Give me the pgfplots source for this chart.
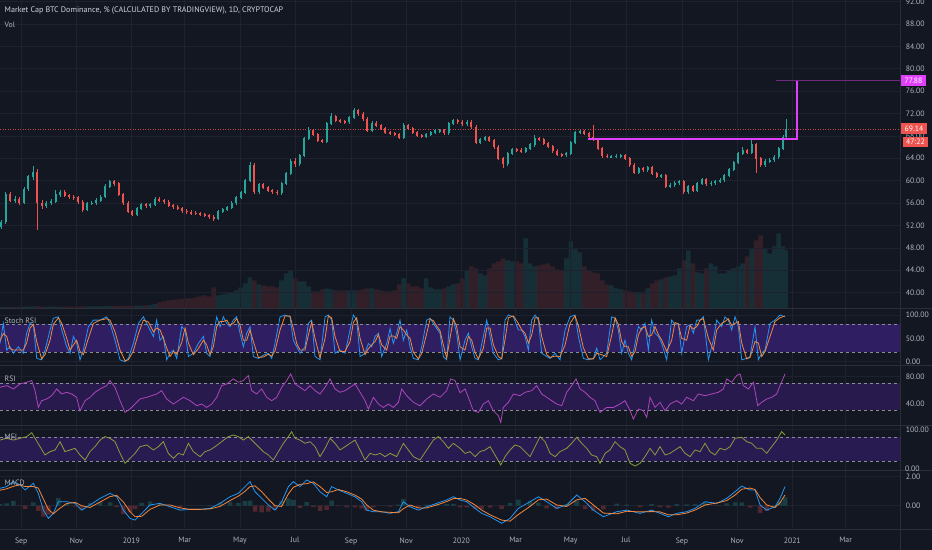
\documentclass[border=0pt]{standalone}
\usepackage{pgfplots}
\pgfplotsset{compat=1.18}
\usepackage{pgfplotstable}
\usepackage{fontspec}
\setmainfont{PT Sans}
\definecolor{bgc}{HTML}{131722}
\definecolor{gridc}{HTML}{1E2230}
\definecolor{sepc}{HTML}{2A2E39}
\definecolor{txt}{HTML}{B2B5BE}
\definecolor{ttl}{HTML}{D1D4DC}
\definecolor{upc}{HTML}{26A69A}
\definecolor{downc}{HTML}{EF5350}
\definecolor{magc}{HTML}{E040FB}
\definecolor{dimmag}{HTML}{6E2A7E}
\definecolor{kc}{HTML}{2196F3}
\definecolor{dc}{HTML}{F5883A}
\definecolor{rsic}{HTML}{AB47BC}
\definecolor{mfic}{HTML}{8C9A3A}
\definecolor{bandS}{HTML}{301E63}
\definecolor{bandR}{HTML}{281A4D}
\definecolor{bandM}{HTML}{281B52}
\definecolor{dashc}{HTML}{8A8D96}
\newcommand{\tvfont}{\fontsize{7.8}{9}\selectfont}
\newcommand{\ttlfont}{\fontsize{8.1}{9}\selectfont}

\pgfplotstableread{
d o h l c v
-144 51.8 53.0 51.3 52.6 1.5
-139 52.6 58.0 52.3 57.5 1.5
-134 57.5 57.9 56.1 56.5 1.5
-129 56.5 57.2 56.0 56.6 1.5
-124 56.6 57.0 55.6 56.0 1.5
-119 56.0 58.9 55.8 58.5 1.6
-114 58.5 61.0 58.2 60.7 1.8
-109 60.7 62.6 60.2 61.5 1.8
-104 61.5 62.0 51.2 56.0 2.2
-99 56.0 56.6 55.0 55.5 1.8
-94 55.5 56.4 55.1 56.0 1.8
-89 56.0 56.8 55.6 56.3 1.8
-84 56.3 58.3 56.0 57.5 1.8
-79 57.5 58.4 57.1 58.0 1.8
-74 58.0 58.3 57.0 57.3 1.8
-69 57.3 57.6 56.8 57.1 1.8
-64 57.1 57.5 56.6 57.0 1.8
-59 57.0 57.3 55.9 56.2 1.9
-54 56.2 56.5 54.4 54.8 2.0
-49 54.8 56.2 54.5 55.9 2.0
-44 55.9 56.4 55.6 56.0 2.0
-39 56.0 56.9 55.7 56.5 2.0
-34 56.5 57.4 56.2 57.1 2.0
-29 57.1 59.4 56.9 59.0 2.2
-24 59.0 60.1 58.7 59.8 2.2
-19 59.8 60.1 59.1 59.5 2.2
-14 59.5 59.8 57.2 57.5 2.3
-9 57.5 57.8 55.7 56.0 2.4
-4 56.0 56.3 54.2 54.5 2.5
1 54.5 54.8 53.6 54.0 2.5
6 54.0 55.3 53.7 55.0 2.6
11 55.0 56.0 54.7 55.7 2.8
16 55.7 56.0 55.2 55.5 3.0
21 55.5 56.0 55.2 55.7 3.3
26 55.7 57.0 55.4 56.6 4.5
31 56.6 57.0 56.2 56.5 6.0
36 56.5 56.8 55.9 56.2 7.0
41 56.2 56.5 55.3 55.6 8.0
46 55.6 55.9 55.0 55.3 8.5
51 55.3 55.6 54.7 55.0 9.0
56 55.0 55.3 54.3 54.6 9.5
61 54.6 54.9 54.1 54.4 10
66 54.4 54.7 53.9 54.2 10
71 54.2 54.5 53.8 54.1 11
76 54.1 54.4 53.7 54.0 12
81 54.0 54.3 53.5 53.8 13
86 53.8 54.1 53.2 53.5 12
91 53.5 53.8 52.8 53.2 21
96 53.2 54.8 52.9 54.5 13
101 54.5 55.1 54.2 54.8 14
106 54.8 55.5 54.5 55.2 15
111 55.2 56.3 54.9 56.0 16
116 56.0 57.3 55.7 57.0 18
121 57.0 58.2 56.7 57.9 21
126 57.9 60.3 57.6 60.0 25
131 60.0 63.4 59.7 62.8 31
136 62.8 63.1 57.7 58.0 28
141 58.0 59.6 57.7 59.3 24
146 59.3 59.6 58.5 58.8 23
151 58.8 59.1 57.9 58.2 22
156 58.2 58.5 57.7 58.0 22
161 58.0 58.3 57.5 57.8 21
166 57.8 59.8 57.5 59.5 28
171 59.5 61.6 59.2 61.3 35
176 61.3 63.8 61.0 63.5 38
181 63.5 64.0 62.5 63.0 30
186 63.0 64.8 62.7 64.5 27
191 64.5 67.8 64.2 67.5 27
196 67.5 69.5 67.2 69.0 22
201 69.0 69.3 67.9 68.2 17
206 68.2 68.5 66.9 67.2 17
211 67.2 67.5 66.7 67.0 19
216 67.0 70.5 66.7 70.2 20
221 70.2 72.0 69.9 71.5 19
226 71.5 71.8 70.5 70.8 18
231 70.8 71.1 70.3 70.6 18
236 70.6 70.9 70.2 70.5 18
241 70.5 71.6 70.2 71.3 18
246 71.3 72.9 71.0 72.5 18
251 72.5 72.8 71.6 71.9 18
256 71.9 72.2 70.7 71.0 19
261 71.0 71.3 68.7 69.0 20
266 69.0 70.6 68.7 70.3 20
271 70.3 70.6 69.5 69.8 19
276 69.8 70.1 69.0 69.3 18
281 69.3 69.6 68.3 68.6 17
286 68.6 68.9 68.1 68.4 17
291 68.4 68.7 67.9 68.2 18
296 68.2 68.5 67.4 67.7 24
301 67.7 70.3 67.4 69.9 30
306 69.9 70.2 69.0 69.3 25
311 69.3 69.6 68.3 68.6 22
316 68.6 68.9 67.8 68.1 22
321 68.1 68.4 67.6 67.9 20
326 67.9 68.5 67.6 68.2 30
331 68.2 68.9 67.9 68.6 21
336 68.6 69.2 68.3 68.9 19
341 68.9 69.3 68.6 69.0 19
346 69.0 69.3 68.2 68.5 20
351 68.5 70.5 68.2 70.2 22
356 70.2 71.1 69.9 70.8 24
361 70.8 71.1 70.2 70.5 25
366 70.5 70.8 69.8 70.1 30
371 70.1 70.8 69.8 70.5 38
376 70.5 70.8 69.3 69.6 42
381 69.6 69.9 66.5 66.8 40
386 66.8 67.6 66.5 67.3 35
391 67.3 68.0 67.0 67.7 33
396 67.7 68.0 66.9 67.2 40
401 67.2 67.5 65.7 66.0 45
406 66.0 66.3 63.7 64.0 47
411 64.0 64.3 62.2 63.0 50
416 63.0 65.1 62.7 64.8 48
421 64.8 65.9 64.5 65.6 47
426 65.6 65.9 65.2 65.5 47
431 65.5 65.8 64.9 65.2 45
436 65.2 66.0 64.9 65.7 70
441 65.7 66.7 65.4 66.4 45
446 66.4 68.2 66.1 67.5 42
451 67.5 67.8 67.1 67.4 43
456 67.4 67.7 66.3 66.6 44
461 66.6 66.9 65.8 66.1 45
466 66.1 66.4 65.0 65.3 42
471 65.3 65.6 64.4 64.7 39
476 64.7 65.0 64.3 64.6 38
481 64.6 65.2 64.3 64.9 50
486 64.9 67.1 64.6 66.8 67
491 66.8 68.9 66.5 68.6 60
496 68.6 69.1 68.3 68.8 56
501 68.8 69.1 68.1 68.4 42
506 68.4 68.7 67.5 67.8 38
511 67.8 70.0 67.1 67.4 36
516 67.4 67.7 65.5 65.8 35
521 65.8 66.1 64.1 64.4 28
526 64.4 64.7 64.0 64.3 24
531 64.3 64.6 64.0 64.3 23
536 64.3 64.7 64.0 64.4 20
541 64.4 64.8 64.1 64.5 19
546 64.5 64.8 63.7 64.0 18
551 64.0 64.3 62.5 62.8 17
556 62.8 63.1 61.2 61.5 16
561 61.5 62.5 61.2 62.2 15
566 62.2 62.5 61.6 61.9 15
571 61.9 62.6 61.6 62.3 20
576 62.3 62.6 61.0 61.3 25
581 61.3 61.6 60.4 60.7 28
586 60.7 61.2 60.4 60.9 29
591 60.9 61.2 58.7 59.0 31
596 59.0 59.5 58.7 59.2 32
601 59.2 59.9 58.9 59.6 33
606 59.6 60.1 59.3 59.8 40
611 59.8 60.1 57.7 58.0 48
616 58.0 59.3 57.7 59.0 58
621 59.0 59.3 57.9 58.2 45
626 58.2 59.8 57.9 59.5 36
631 59.5 60.5 59.2 60.2 35
636 60.2 60.5 59.1 59.4 40
641 59.4 59.9 59.1 59.6 45
646 59.6 60.1 59.3 59.8 42
651 59.8 60.4 59.5 60.1 35
656 60.1 61.2 59.8 60.9 35
661 60.9 62.3 60.6 62.0 38
666 62.0 63.5 61.7 63.2 40
671 63.2 65.1 62.9 64.8 42
676 64.8 66.1 64.5 65.4 45
681 65.4 65.7 64.7 65.0 52
686 65.0 67.3 64.7 66.5 60
691 66.5 66.8 61.3 64.0 68
696 64.0 64.3 62.5 62.8 73
701 62.8 63.8 62.5 63.5 60
706 63.5 64.0 63.2 63.7 55
711 63.7 64.5 63.4 64.2 62
716 64.2 66.1 63.9 65.8 75
721 65.8 68.1 65.5 67.8 62
724 67.8 71.1 67.5 69.14 58
}\candles

\pgfplotstableread{
d k dd
-145.4 39 45
-141.7 82 60
-138.0 25 54
-134.3 32 28
-130.6 18 25
-125.1 32 25
-119.6 18 25
-115.9 61 40
-112.2 82 72
-108.5 79 80
-104.8 7 43
-99.3 4 6
-95.6 25 15
-90.0 68 46
-86.4 93 80
-80.8 96 94
-77.1 68 82
-71.6 32 50
-67.9 18 25
-64.2 54 36
-60.6 39 46
-56.9 4 22
-53.2 25 15
-47.6 75 50
-42.1 89 82
-34.7 89 89
-27.4 96 92
-23.7 82 89
-18.2 46 64
-12.6 4 25
-7.1 0 2
-3.4 7 4
2.1 39 23
7.7 82 60
13.2 96 89
18.7 75 85
24.3 54 64
27.9 89 72
31.6 46 68
35.3 54 50
39.0 4 29
42.7 18 11
46.4 25 22
50.1 7 16
55.6 75 41
59.3 68 72
63.0 11 40
68.5 18 15
74.0 39 28
79.6 54 46
83.2 18 36
86.9 11 15
90.6 54 32
94.3 96 75
98.0 75 86
101.7 96 86
105.4 82 89
109.1 75 78
112.7 89 82
116.4 96 92
120.1 61 78
123.8 32 46
127.5 61 46
131.2 75 68
134.9 11 43
140.4 7 9
145.9 14 10
151.5 18 16
155.2 7 12
158.8 39 23
164.4 96 68
169.9 100 98
175.4 96 98
179.1 46 71
182.8 32 39
186.5 18 25
192.0 32 25
195.7 82 57
199.4 89 85
203.1 11 50
208.6 4 8
214.2 96 50
217.8 100 98
221.5 89 94
225.2 18 54
230.7 25 22
236.3 18 22
241.8 68 43
245.5 100 84
249.2 89 94
252.9 11 50
258.4 18 15
262.1 39 28
265.8 32 36
269.5 54 43
273.2 61 58
276.8 11 36
282.4 39 25
286.1 71 55
289.7 39 55
293.4 61 50
297.1 89 75
300.8 46 68
304.5 68 57
308.2 32 50
311.9 7 20
317.4 4 6
321.1 32 18
326.6 89 60
330.3 93 91
334.0 82 88
337.7 71 76
341.4 61 66
345.0 11 36
348.7 4 8
352.4 96 50
356.1 89 92
359.8 61 75
363.5 4 32
369.0 46 25
372.7 61 54
376.4 32 46
380.1 7 20
383.8 4 6
389.3 54 29
393.0 89 72
396.7 54 72
400.4 18 36
405.9 4 11
409.6 7 6
413.3 89 48
417.0 100 94
422.5 96 98
428.0 68 82
431.7 68 68
435.4 54 61
439.1 25 40
442.8 89 57
446.5 100 94
450.2 89 94
453.8 18 54
459.4 11 15
463.1 7 9
468.6 18 12
474.1 4 11
479.7 68 36
485.2 96 82
490.7 100 98
494.4 54 77
499.9 7 30
505.5 4 6
511.0 7 6
514.7 29 18
518.4 4 16
525.7 18 11
531.3 96 57
535.0 93 94
538.6 68 80
542.3 18 43
546.0 46 32
549.7 18 32
553.4 4 11
557.1 39 22
560.8 75 57
564.5 68 72
568.1 82 75
571.8 25 54
575.5 89 57
579.2 61 75
582.9 54 58
586.6 39 46
592.1 4 22
597.6 89 46
601.3 79 84
605.0 82 80
608.7 18 50
614.2 75 46
617.9 79 77
621.6 61 70
625.3 89 75
629.0 89 89
632.7 96 92
638.2 4 50
643.7 46 25
647.4 89 68
652.9 75 82
656.6 96 86
660.3 89 92
664.0 68 78
667.7 96 82
671.4 75 86
675.1 4 40
680.6 7 6
684.3 11 9
689.8 75 43
693.5 4 40
697.2 18 11
700.9 25 22
706.4 82 54
711.9 89 86
717.5 100 94
723.0 96 98
}\stoch

\pgfplotstableread{
d v
-145.4 64
-138.0 66.5
-130.6 61.6
-123.2 69
-115.9 71.5
-110.3 74
-106.6 59
-103.0 34.4
-99.3 44.3
-93.7 46.8
-88.2 51.7
-82.7 61.6
-77.1 54.2
-71.6 56.7
-66.1 54.2
-60.6 49.3
-56.9 29.5
-51.3 44.3
-45.8 49.3
-40.3 56.7
-34.7 61.6
-27.4 66.5
-23.7 74
-18.2 64
-12.6 44.3
-7.1 27
-1.6 32
4.0 39.4
9.5 46.8
16.9 49.3
22.4 51.7
27.9 54.2
33.5 59.1
39.0 46.8
46.4 39.4
51.9 44.3
57.4 49.3
64.8 44.3
72.2 36.9
77.7 39.4
83.2 34.4
88.8 39.4
94.3 49.3
99.8 66.5
105.4 69
112.7 76.4
118.3 71.5
123.8 74
129.3 81.4
133.0 59.1
138.5 54.2
144.1 61.6
149.6 49.3
155.2 44.3
160.7 49.3
166.2 64
171.7 74
176.2 83.8
181.0 69
186.5 64
192.0 59.1
197.6 66.5
203.1 59.1
208.6 54.2
214.2 64
219.7 76.4
225.2 61.6
230.7 56.7
236.3 59.1
241.8 64
247.3 69
252.9 56.7
258.4 44.3
262.1 32
267.6 49.3
273.2 39.4
278.7 34.4
284.2 39.4
289.7 34.4
295.3 41.9
299.0 61.6
304.5 51.7
311.9 41.9
319.2 36.9
326.6 46.8
334.0 54.2
341.4 49.3
348.7 59.1
353.2 76.4
358.0 74
363.5 56
369.0 61.6
372.7 49.3
378.2 29.5
383.8 27
389.3 39.4
394.8 44.3
400.4 29.5
405.9 22.1
408.5 12.2
411.4 34.4
417.0 41.9
422.5 54.2
429.9 51.7
435.4 56.7
442.8 59.1
448.3 66.5
453.8 54.2
459.4 49.3
464.9 44.3
470.4 39.4
476.0 36.9
481.5 56.7
487.0 66.5
491.8 76.4
496.2 61.6
501.8 56.7
507.3 49.3
512.8 44.3
518.4 27
525.7 34.4
533.1 34.4
540.5 39.4
546.0 44.3
551.6 29.5
555.2 17.2
560.8 32
566.3 29.5
570.0 19.6
573.7 49.3
579.2 34.4
584.7 41.9
590.3 29.5
595.8 39.4
603.2 44.3
608.7 39.4
614.2 49.3
621.6 44.3
627.1 54.2
634.5 51.7
641.9 54.2
649.3 56.7
654.8 61.6
658.5 76.4
664.0 71.5
669.5 81.4
673.2 83.8
676.9 66.5
682.5 61.6
688.0 71.5
692.8 36.9
697.2 41.9
702.7 46.8
708.3 49.3
713.8 54.2
717.5 66.5
723.0 83.8
}\rsi

\pgfplotstableread{
d v
-145.4 73
-138.0 77.5
-130.6 73
-123.2 77.5
-115.9 81.7
-110.3 91.8
-106.6 77.5
-101.1 56.3
-95.6 35.2
-90.0 43.7
-84.5 47.9
-79.0 69
-73.5 43.7
-67.9 47.9
-62.4 52.1
-56.9 35.2
-51.3 22.5
-45.8 43.7
-40.3 56.3
-34.7 73
-29.2 81.7
-23.7 77.5
-18.2 69
-12.6 39.4
-7.1 14.1
-1.6 26.8
4.0 39.4
9.5 56.3
16.9 60.6
24.3 47.9
29.8 56.3
35.3 69
40.8 39.4
46.4 26.8
51.9 39.4
57.4 35.2
63.0 64.8
68.5 43.7
75.9 31
81.4 43.7
86.9 47.9
92.5 56.3
99.8 69
107.2 81.7
112.7 85.9
118.3 81.7
123.8 73
129.3 81.7
134.9 69
140.4 56.3
145.9 43.7
151.5 35.2
157.0 22.5
162.5 43.7
168.1 64.8
173.6 81.7
177.3 94.4
181.0 77.5
186.5 73
192.0 64.8
197.6 69
203.1 56.3
208.6 31
214.2 52.1
219.7 77.5
225.2 64.8
230.7 47.9
236.3 56.3
241.8 64.8
247.3 73
252.9 47.9
258.4 22.5
263.9 39.4
269.5 35.2
275.0 39.4
280.5 31
286.1 39.4
293.4 31
300.8 64.8
306.3 47.9
311.9 31
319.2 22.5
326.6 47.9
334.0 73
339.5 81.7
345.0 69
350.6 52.1
356.1 64.8
363.5 52.1
369.0 39.4
374.6 43.7
380.1 31
385.6 43.7
391.2 47.9
396.7 56.3
402.2 35.2
408.5 9.9
413.3 31
418.8 47.9
424.3 60.6
429.9 56.3
435.4 43.7
440.9 31
446.5 56.3
452.0 81.7
457.5 69
463.1 39.4
468.6 31
474.1 43.7
481.5 52.1
487.0 64.8
492.6 80
498.1 64.8
503.6 52.1
509.1 35.2
514.7 31
518.4 14.1
523.9 39.4
529.4 47.9
535.0 69
540.5 56.3
546.0 47.9
551.6 14.1
557.1 7.3
562.6 14.1
568.1 31
573.7 52.1
579.2 35.2
584.7 56.3
590.3 35.2
595.8 39.4
601.3 47.9
606.9 56.3
612.4 39.4
617.9 31
623.5 47.9
629.0 43.7
634.5 64.8
640.0 43.7
645.6 35.2
651.1 52.1
656.6 47.9
662.2 56.3
667.7 77.5
675.1 80
680.6 69
686.1 64.8
691.7 52.1
697.2 52.1
702.7 39.4
708.3 56.3
713.8 73
719.2 94.4
723.0 85.9
}\mfi

\pgfplotstableread{
d m s h
-145.4 1.18 1.05 0.13
-138.0 1.30 1.15 0.15
-130.6 1.64 1.32 0.32
-123.2 1.41 1.42 -0.01
-117.7 1.07 1.30 -0.23
-108.5 1.52 1.30 0.22
-103.0 0.84 1.20 -0.36
-97.4 -0.30 0.45 -0.75
-91.9 -0.86 -0.25 -0.61
-86.4 -0.52 -0.55 0.03
-80.8 0.27 -0.25 0.52
-71.6 0.27 0.15 0.12
-62.4 0.16 0.22 -0.06
-55.0 -0.30 0.00 -0.30
-45.8 0.05 -0.12 0.17
-34.7 0.50 0.25 0.25
-23.7 0.84 0.62 0.22
-16.3 0.61 0.70 -0.09
-8.9 -0.30 0.25 -0.55
-1.6 -0.86 -0.40 -0.46
4.0 -0.98 -0.75 -0.23
11.4 -0.52 -0.72 0.20
20.6 0.05 -0.25 0.30
31.6 0.16 0.05 0.11
42.7 -0.07 0.05 -0.12
53.8 -0.30 -0.15 -0.15
64.8 -0.25 -0.25 0.00
75.9 -0.25 -0.25 0.00
86.9 -0.18 -0.22 0.04
98.0 0.16 -0.05 0.21
109.1 0.61 0.35 0.26
118.3 0.84 0.65 0.19
125.6 1.30 0.98 0.32
131.2 1.64 1.30 0.34
136.7 0.95 1.35 -0.40
144.1 0.50 0.95 -0.45
151.5 0.05 0.45 -0.40
158.8 -0.30 0.00 -0.30
166.2 0.27 -0.05 0.32
173.6 1.30 0.80 0.50
179.1 1.64 1.25 0.39
186.5 1.30 1.45 -0.15
193.9 1.75 1.50 0.25
201.2 1.52 1.62 -0.10
208.6 0.95 1.30 -0.35
216.0 0.61 0.90 -0.29
221.5 1.30 0.95 0.35
228.9 1.07 1.10 -0.03
238.1 0.84 0.95 -0.11
247.3 0.61 0.72 -0.11
254.7 0.27 0.45 -0.18
260.2 -0.30 0.05 -0.35
267.6 -0.41 -0.30 -0.11
276.8 -0.41 -0.42 0.01
286.1 -0.52 -0.45 -0.07
295.3 -0.41 -0.48 0.07
300.8 0.27 -0.20 0.47
308.2 -0.07 0.05 -0.12
317.4 -0.30 -0.15 -0.15
326.6 -0.07 -0.15 0.08
337.7 0.16 0.05 0.11
348.7 0.39 0.28 0.11
356.1 0.61 0.48 0.13
363.5 0.39 0.50 -0.11
370.9 0.27 0.38 -0.11
380.1 -0.18 0.05 -0.23
387.5 -0.52 -0.30 -0.22
396.7 -0.75 -0.62 -0.13
409.6 -1.20 -0.98 -0.22
418.8 -0.86 -1.05 0.19
428.0 -0.18 -0.60 0.42
440.9 0.27 -0.05 0.32
450.2 0.61 0.40 0.21
459.4 0.27 0.45 -0.18
470.4 -0.18 0.05 -0.23
481.5 0.05 -0.05 0.10
492.6 0.73 0.40 0.33
501.8 0.27 0.50 -0.23
511.0 -0.30 0.05 -0.35
522.1 -0.75 -0.50 -0.25
536.8 -0.41 -0.55 0.14
547.9 -0.30 -0.38 0.08
562.6 -0.52 -0.42 -0.10
575.5 -0.30 -0.40 0.10
584.7 -0.52 -0.42 -0.10
594.0 -0.75 -0.62 -0.13
603.2 -0.52 -0.62 0.10
614.2 -0.41 -0.50 0.09
623.5 -0.18 -0.30 0.12
634.5 0.27 0.05 0.22
647.4 0.16 0.18 -0.02
658.5 0.50 0.35 0.15
667.7 0.95 0.72 0.23
675.1 1.34 1.12 0.22
684.3 1.07 1.20 -0.13
689.8 1.07 1.10 -0.03
695.4 0.05 0.55 -0.50
702.7 -0.30 0.05 -0.35
711.9 -0.07 -0.12 0.05
717.5 0.50 0.20 0.30
723.0 1.30 0.73 0.57
}\macd

\pgfplotsset{
  tv/.style={
    scale only axis, width=900bp,
    xmin=-145.4, xmax=850.2,
    axis line style={draw=none},
    tick style={draw=none},
    major tick length=0pt,
    xtick={-122,-61,0,59,120,181,243,304,365,425,486,547,609,670,731,790},
    xticklabels={},
    xmajorgrids, ymajorgrids,
    grid style={draw=gridc, line width=0.6bp},
    yticklabel pos=right,
    yticklabel style={font=\tvfont, text=txt, anchor=west, xshift=2.4bp,
      /pgf/number format/fixed, /pgf/number format/fixed zerofill,
      /pgf/number format/precision=2, /pgf/number format/assume math mode=true},
    xticklabel style={font=\tvfont, text=txt, yshift=-5bp},
    clip mode=individual,
  },
  band/.style={draw=none, fill=#1},
  dline/.style={dashc, line width=0.7bp, dash pattern=on 3bp off 3bp},
}

\begin{document}
\begin{tikzpicture}[x=1bp,y=1bp]
\useasboundingbox (0,0) rectangle (932,-550);
\fill[bgc] (0,0) rectangle (932,-550);

% volume (behind)
\begin{axis}[scale only axis, width=900bp, height=308.3bp, at={(0bp,0bp)}, anchor=north west,
  xmin=-145.4, xmax=850.2, ymin=0, ymax=308.3, hide axis]
\addplot[ybar, bar width=5, bar shift=0pt, draw=none, fill=upc, fill opacity=0.17,
  restrict expr to domain={\thisrow{c}-\thisrow{o}}{0:100}] table[x=d, y=v] {\candles};
\addplot[ybar, bar width=5, bar shift=0pt, draw=none, fill=downc, fill opacity=0.14,
  restrict expr to domain={\thisrow{c}-\thisrow{o}}{-100:-0.0001}] table[x=d, y=v] {\candles};
\end{axis}

% main price panel
\begin{axis}[tv, at={(0bp,0bp)}, anchor=north west, height=308.3bp,
  ymin=37.2, ymax=92.27, ytick={40,44,...,92}]
\addplot[downc, opacity=0.8, line width=0.6bp, dash pattern=on 1bp off 1.5bp]
  coordinates {(-145.4,69.14) (850.2,69.14)};
\addplot[dimmag, line width=0.7bp] coordinates {(713,77.88) (850.2,77.88)};
% wicks
\addplot[draw=none, restrict expr to domain={\thisrow{c}-\thisrow{o}}{0:100},
  error bars/.cd, y dir=both, y explicit, error mark=none,
  error bar style={draw=upc, line width=0.6bp}]
  table[x=d, y expr={(\thisrow{h}+\thisrow{l})/2}, y error expr={(\thisrow{h}-\thisrow{l})/2}] {\candles};
\addplot[draw=none, restrict expr to domain={\thisrow{c}-\thisrow{o}}{-100:-0.0001},
  error bars/.cd, y dir=both, y explicit, error mark=none,
  error bar style={draw=downc, line width=0.6bp}]
  table[x=d, y expr={(\thisrow{h}+\thisrow{l})/2}, y error expr={(\thisrow{h}-\thisrow{l})/2}] {\candles};
% bodies
\addplot[draw=none, restrict expr to domain={\thisrow{c}-\thisrow{o}}{0:100},
  error bars/.cd, y dir=both, y explicit, error mark=none,
  error bar style={draw=upc, line width=2.0bp}]
  table[x=d, y expr={(\thisrow{o}+\thisrow{c})/2}, y error expr={abs(\thisrow{c}-\thisrow{o})/2+0.06}] {\candles};
\addplot[draw=none, restrict expr to domain={\thisrow{c}-\thisrow{o}}{-100:-0.0001},
  error bars/.cd, y dir=both, y explicit, error mark=none,
  error bar style={draw=downc, line width=2.0bp}]
  table[x=d, y expr={(\thisrow{o}+\thisrow{c})/2}, y error expr={abs(\thisrow{c}-\thisrow{o})/2+0.06}] {\candles};
% drawn level
\addplot[magc, line width=1.6bp] coordinates {(505.1,67.4) (736.3,67.4) (736.3,77.88)};
\end{axis}

% Stoch RSI
\begin{axis}[tv, at={(0bp,-308.3bp)}, anchor=north west, height=57.4bp,
  ymin=-8.6, ymax=114.3, ytick={0,50,100}]
\addplot[band=bandS] coordinates {(-145.4,20) (850.2,20) (850.2,80) (-145.4,80)};
\addplot[dline] coordinates {(-145.4,80) (850.2,80)};
\addplot[dline] coordinates {(-145.4,20) (850.2,20)};
\addplot[kc, line width=0.8bp] table[x=d, y=k] {\stoch};
\addplot[dc, line width=0.8bp] table[x=d, y=dd] {\stoch};
\end{axis}

% RSI
\begin{axis}[tv, at={(0bp,-365.7bp)}, anchor=north west, height=60bp,
  ymin=7.4, ymax=95.9, ytick={40,80}]
\addplot[band=bandR] coordinates {(-145.4,30) (850.2,30) (850.2,70) (-145.4,70)};
\addplot[dline] coordinates {(-145.4,70) (850.2,70)};
\addplot[dline] coordinates {(-145.4,30) (850.2,30)};
\addplot[rsic, line width=0.8bp] table[x=d, y=v] {\rsi};
\end{axis}

% MFI
\begin{axis}[tv, at={(0bp,-425.7bp)}, anchor=north west, height=45bp,
  ymin=-4.6, ymax=109.4, ytick={100}]
\addplot[band=bandM] coordinates {(-145.4,20) (850.2,20) (850.2,80) (-145.4,80)};
\addplot[dline] coordinates {(-145.4,80) (850.2,80)};
\addplot[dline] coordinates {(-145.4,20) (850.2,20)};
\addplot[mfic, line width=0.8bp] table[x=d, y=v] {\mfi};
\end{axis}

% MACD
\begin{axis}[tv, at={(0bp,-470.7bp)}, anchor=north west, height=58.3bp,
  ymin=-1.585, ymax=2.38, ytick={0,2},
  xticklabels={Sep,Nov,2019,Mar,May,Jul,Sep,Nov,2020,Mar,May,Jul,Sep,Nov,2021,Mar}]
\addplot[ybar, bar width=5, bar shift=0pt, draw=none, fill=upc, fill opacity=0.28,
  restrict expr to domain={\thisrow{h}}{0:10}] table[x=d, y=h] {\macd};
\addplot[ybar, bar width=5, bar shift=0pt, draw=none, fill=downc, fill opacity=0.28,
  restrict expr to domain={\thisrow{h}}{-10:-0.0001}] table[x=d, y=h] {\macd};
\addplot[kc, line width=0.8bp] table[x=d, y=m] {\macd};
\addplot[dc, line width=0.8bp] table[x=d, y=s] {\macd};
\end{axis}

% separators
\foreach \yy in {308.3,365.7,425.7,470.7,529.5} {
  \draw[sepc, line width=0.8bp] (0,-\yy) -- (932,-\yy);
}
\draw[sepc, line width=0.8bp] (900,0) -- (900,-550);

% clipped MFI zero label
\begin{scope}
\clip (901,-425.7) rectangle (932,-470.3);
\node[anchor=west, text=txt, font=\tvfont, inner sep=0pt] at (905,-468.9) {0.00};
\end{scope}

% price labels
\node[anchor=west, fill=magc, text=white, font=\tvfont, inner xsep=4bp, inner ysep=0pt, minimum height=10.5bp] at (900.5,-80.6) {77.88};
\node[anchor=west, fill=downc, text=white, font=\tvfont, inner xsep=4bp, inner ysep=0pt, minimum height=10.5bp] at (900.5,-128.5) {69.14};
\node[anchor=west, fill=downc, text=white, font=\tvfont, inner xsep=3.5bp, inner ysep=0pt, minimum height=10.5bp] at (902.5,-141.8) {47:22};

% titles
\node[anchor=west, text=ttl, font=\ttlfont, inner sep=0pt] at (4.5,-11) {Market Cap BTC Dominance, \% (CALCULATED BY TRADINGVIEW), 1D, CRYPTOCAP};
\node[anchor=west, text=txt, font=\tvfont, inner sep=0pt] at (4.5,-24.5) {Vol};
\node[anchor=west, text=txt, font=\tvfont, inner sep=0pt] at (4.5,-320.5) {Stoch RSI};
\node[anchor=west, text=txt, font=\tvfont, inner sep=0pt] at (4.5,-379) {RSI};
\node[anchor=west, text=txt, font=\tvfont, inner sep=0pt] at (4.5,-437) {MFI};
\node[anchor=west, text=txt, font=\tvfont, inner sep=0pt] at (4.5,-483) {MACD};
\end{tikzpicture}
\end{document}
